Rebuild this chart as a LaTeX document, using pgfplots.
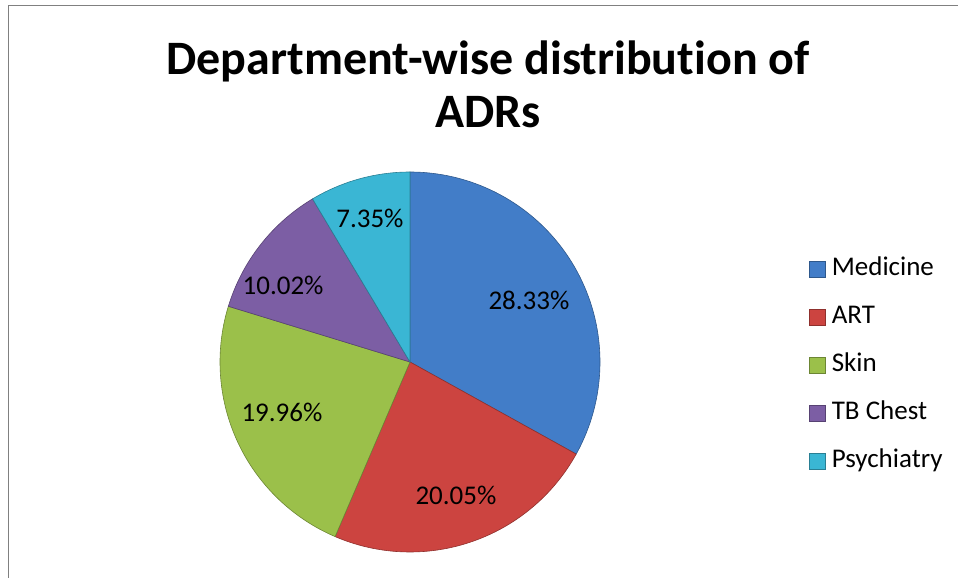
\documentclass[border=0pt]{standalone}
\usepackage{pgfplots}
\pgfplotsset{compat=1.18}
\usepackage{fontspec}
\setmainfont{Carlito}[Ligatures=NoCommon]
\definecolor{cMed}{RGB}{66,125,200}
\definecolor{cArt}{RGB}{204,68,64}
\definecolor{cSkin}{RGB}{155,192,74}
\definecolor{cTB}{RGB}{124,94,164}
\definecolor{cPsy}{RGB}{58,182,212}
\begin{document}
\begin{tikzpicture}[x=1pt,y=1pt]
\useasboundingbox (0,0) rectangle (958,578);
\draw[black!50, line width=1.5pt] (8.5,0) -- (8.5,572.5) -- (958,572.5);
\node[font=\fontsize{48}{56}\selectfont\bfseries, anchor=base] at (488,503) {Department-wise distribution of};
\node[font=\fontsize{48}{56}\selectfont\bfseries, anchor=base] at (488,450) {ADRs};
% values (%): Medicine 28.33, ART 20.05, Skin 19.96, TB Chest 10.02, Psychiatry 7.35 ; total 85.71
\begin{axis}[at={(410pt,216pt)}, anchor=center, scale only axis, width=380pt, height=380pt,
  xmin=-1, xmax=1, ymin=-1, ymax=1, hide axis, clip=false,
  legend style={at={(1.55,0.49)}, anchor=west, draw=none, inner sep=0pt,
    font=\fontsize{27}{32}\selectfont, row sep=22pt,
    nodes={inner sep=1pt, text height=18pt, text depth=6pt},
    /tikz/every odd column/.append style={column sep=5pt}},
  legend cell align=left,
  legend image code/.code={\fill[#1] (0pt,-8pt) rectangle (16pt,8pt);},
  every axis plot/.append style={line width=0.6pt}]
\addplot[fill=cMed, draw=cMed!70!black, domain=-28.99:90, samples=120, variable=\t] ({cos(\t)},{sin(\t)}) -- (axis cs:0,0) -- cycle;
\addlegendentry{Medicine}
\addplot[fill=cArt, draw=cArt!70!black, domain=-113.21:-28.99, samples=90, variable=\t] ({cos(\t)},{sin(\t)}) -- (axis cs:0,0) -- cycle;
\addlegendentry{ART}
\addplot[fill=cSkin, draw=cSkin!70!black, domain=-197.05:-113.21, samples=90, variable=\t] ({cos(\t)},{sin(\t)}) -- (axis cs:0,0) -- cycle;
\addlegendentry{Skin}
\addplot[fill=cTB, draw=cTB!70!black, domain=-239.14:-197.05, samples=50, variable=\t] ({cos(\t)},{sin(\t)}) -- (axis cs:0,0) -- cycle;
\addlegendentry{TB Chest}
\addplot[fill=cPsy, draw=cPsy!70!black, domain=-270:-239.14, samples=40, variable=\t] ({cos(\t)},{sin(\t)}) -- (axis cs:0,0) -- cycle;
\addlegendentry{Psychiatry}
\begin{scope}[every node/.style={font=\fontsize{27}{32}\selectfont}]
\node at (axis cs:0.626,0.326) {28.33\%};
\node at (axis cs:0.242,-0.700) {20.05\%};
\node at (axis cs:-0.674,-0.263) {19.96\%};
\node at (axis cs:-0.668,0.405) {10.02\%};
\node at (axis cs:-0.211,0.758) {7.35\%};
\end{scope}
\end{axis}
\end{tikzpicture}
\end{document}
